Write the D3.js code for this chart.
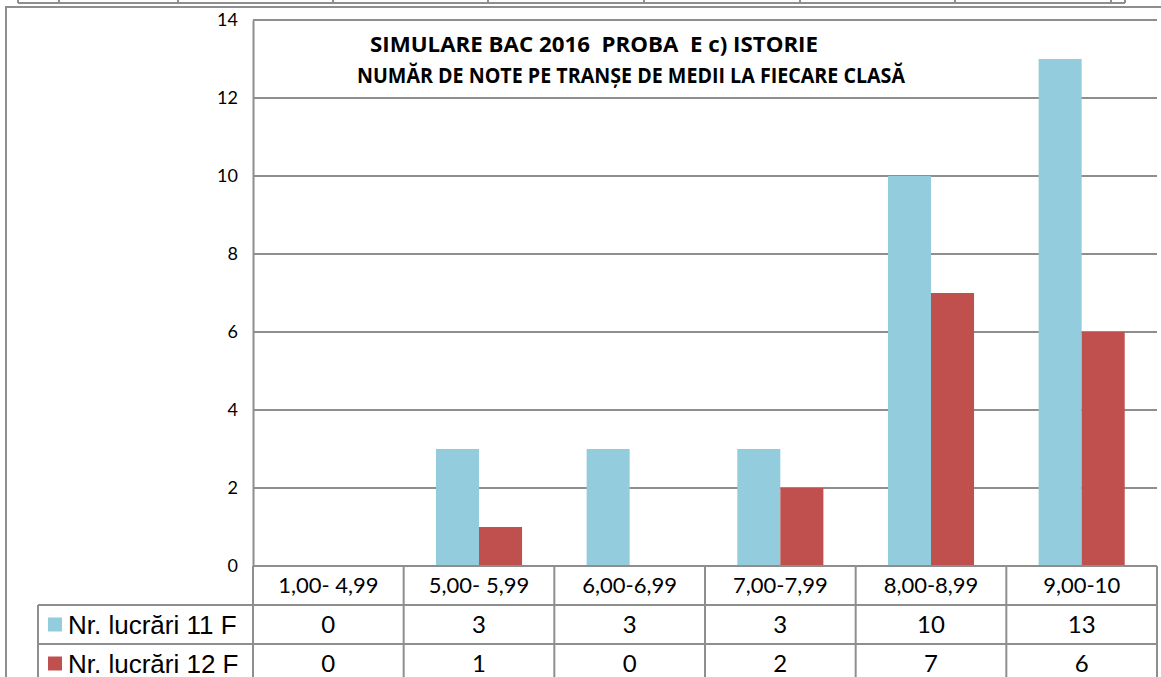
<!DOCTYPE html>
<head>
  <meta charset="utf-8" />
  <script src="https://d3js.org/d3.v7.min.js"></script>
  <style>
    body { margin: 0; background: #fff; }
  </style>
</head>
<body>
  <script>
    // date
    var categorii = ["1,00- 4,99", "5,00- 5,99", "6,00-6,99", "7,00-7,99", "8,00-8,99", "9,00-10"];
    var serii = ["Nr. lucrări 11 F", "Nr. lucrări 12 F"];
    var note11F = [0, 3, 3, 3, 10, 13];
    var note12F = [0, 1, 0, 2, 7, 6];
    var culori = ["#93CDDD", "#C0504D"];
    var yTicks = [0, 2, 4, 6, 8, 10, 12, 14];
    var titlu = ["SIMULARE BAC 2016  PROBA  E c) ISTORIE", "NUMĂR DE NOTE PE TRANȘE DE MEDII LA FIECARE CLASĂ"];
    var stripX = [18, 59, 178, 333, 488, 644, 800, 955, 1111, 1125];

    var width = 1161, height = 677;
    var pLeft = 253, pRight = 1157, pTop = 20, pBottom = 566;
    var rowH = [566, 605, 644, 683];
    var gray = "#8e8e8e";
    var calibri = "Lato, 'Open Sans', sans-serif";

    var svg = d3.select("body").append("svg")
      .attr("width", width)
      .attr("height", height);

    // banda de tabel de sus (taiata)
    svg.append("line")
      .attr("x1", stripX[0]).attr("x2", stripX[stripX.length - 1])
      .attr("y1", 3).attr("y2", 3)
      .attr("stroke", gray).attr("stroke-width", 2);
    svg.selectAll(".strip").data(stripX).enter().append("line")
      .attr("x1", d => d).attr("x2", d => d)
      .attr("y1", 0).attr("y2", 3)
      .attr("stroke", gray).attr("stroke-width", 2);

    // cadrul exterior
    svg.append("path")
      .attr("d", "M6,677V7H1161")
      .attr("fill", "none")
      .attr("stroke", gray).attr("stroke-width", 2);

    var y = d3.scaleLinear().domain([0, 14]).range([pBottom, pTop]);
    var x = d3.scaleBand().domain(categorii).range([pLeft, pRight]).paddingInner(0).paddingOuter(0);
    var xs = d3.scaleBand().domain([0, 1]).range([0, x.bandwidth()]).paddingInner(0).paddingOuter(0.75);

    // grila
    svg.append("g").selectAll("line").data(yTicks).enter().append("line")
      .attr("x1", pLeft).attr("x2", pRight)
      .attr("y1", d => y(d)).attr("y2", d => y(d))
      .attr("stroke", gray).attr("stroke-width", 2);

    // axa y
    var yAxis = svg.append("g")
      .attr("transform", "translate(" + pLeft + ",0)")
      .call(d3.axisLeft(y).tickValues(yTicks).tickSize(0).tickPadding(15));
    yAxis.select(".domain").attr("stroke", gray).attr("stroke-width", 2);
    yAxis.selectAll("text")
      .attr("font-family", calibri)
      .attr("font-size", 18)
      .attr("fill", "#000");

    // bare
    var grupuri = svg.append("g").selectAll("g").data(categorii).enter().append("g")
      .attr("transform", d => "translate(" + x(d) + ",0)");
    grupuri.selectAll("rect")
      .data((d, i) => [note11F[i], note12F[i]])
      .enter().append("rect")
      .attr("x", (d, j) => xs(j))
      .attr("width", xs.bandwidth())
      .attr("y", d => y(d))
      .attr("height", d => y(0) - y(d))
      .attr("fill", (d, j) => culori[j]);

    // titlu
    var titluX = [370, 357];
    svg.selectAll(".titlu").data(titlu).enter().append("text")
      .attr("x", (d, i) => titluX[i])
      .attr("y", (d, i) => 52 + i * 31)
      .attr("font-family", "'Open Sans', Lato, sans-serif")
      .attr("font-weight", "bold")
      .attr("font-size", 22)
      .attr("textLength", (d, i) => [448, 548][i])
      .attr("lengthAdjust", "spacingAndGlyphs")
      .style("white-space", "pre")
      .text(d => d);

    // tabel de date
    var tabel = svg.append("g");
    tabel.selectAll(".h").data(rowH).enter().append("line")
      .attr("x1", (d, i) => i == 0 ? pLeft : 38)
      .attr("x2", pRight)
      .attr("y1", d => d).attr("y2", d => d)
      .attr("stroke", gray).attr("stroke-width", 2);
    var colX = categorii.map(c => x(c)).concat([pRight]);
    tabel.selectAll(".v").data(colX).enter().append("line")
      .attr("x1", d => d).attr("x2", d => d)
      .attr("y1", rowH[0]).attr("y2", rowH[3])
      .attr("stroke", gray).attr("stroke-width", 2);
    tabel.append("line")
      .attr("x1", 38).attr("x2", 38)
      .attr("y1", rowH[1]).attr("y2", rowH[3])
      .attr("stroke", gray).attr("stroke-width", 2);

    // etichete categorii
    tabel.selectAll(".cat").data(categorii).enter().append("text")
      .attr("x", d => x(d) + x.bandwidth() / 2)
      .attr("y", (rowH[0] + rowH[1]) / 2)
      .attr("dy", "0.35em")
      .attr("text-anchor", "middle")
      .attr("font-family", calibri)
      .attr("font-size", 22)
      .text(d => d);

    // valori + legenda
    [note11F, note12F].forEach(function (vals, r) {
      var cy = (rowH[r + 1] + rowH[r + 2]) / 2;
      tabel.selectAll(".val" + r).data(vals).enter().append("text")
        .attr("x", (d, i) => x(categorii[i]) + x.bandwidth() / 2)
        .attr("y", cy)
        .attr("dy", "0.35em")
        .attr("text-anchor", "middle")
        .attr("font-family", calibri)
        .attr("font-size", 24)
        .text(d => d);

      tabel.append("rect")
        .attr("x", 48).attr("y", cy - 7)
        .attr("width", 14).attr("height", 14)
        .attr("fill", culori[r]);
      tabel.append("text")
        .attr("x", 68)
        .attr("y", cy)
        .attr("dy", "0.35em")
        .attr("font-family", "'Liberation Sans', Arial, sans-serif")
        .attr("font-size", 26)
        .text(serii[r]);
    });
  </script>
</body>
